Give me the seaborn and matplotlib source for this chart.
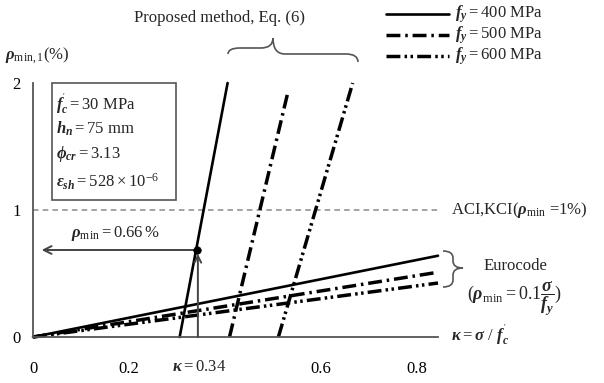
import matplotlib
matplotlib.use("Agg")
import matplotlib.pyplot as plt
import seaborn as sns
import pandas as pd
from matplotlib.path import Path
from matplotlib.patches import PathPatch, Rectangle
from matplotlib.lines import Line2D

# ---------------- data ----------------
fy_values = ["400", "500", "600"]
kappa_euro = [0.0, 0.845]
rho_euro_400 = [0.0, 0.64]
rho_euro_500 = [0.0, 0.51]
rho_euro_600 = [0.0, 0.425]
kappa_prop_400 = [0.306, 0.406]
rho_prop_400 = [0.0, 2.0]
kappa_prop_500 = [0.410, 0.532]
rho_prop_500 = [0.0, 1.93]
kappa_prop_600 = [0.512, 0.667]
rho_prop_600 = [0.0, 2.0]
kappa_pt = [0.342]
rho_pt = [0.685]
aci_x = [0.0, 0.845]
aci_y = [1.0, 1.0]
x_ticks = [0, 0.2, 0.4, 0.6, 0.8]
x_tick_labels = ["0", "0.2", "", "0.6", "0.8"]
y_ticks = [0, 1, 2]
y_tick_labels = ["0", "1", "2"]
box_lines = [r"$f_c^{'}=30\ \mathrm{MPa}$", r"$h_n=75\ \mathrm{mm}$",
             r"$\phi_{cr}=3.13$", r"$\varepsilon_{sh}=528\times10^{-6}$"]

# ---------------- style ----------------
sns.set_theme(style="white")
plt.rcParams["font.family"] = ["Liberation Serif", "DejaVu Serif"]
plt.rcParams["mathtext.fontset"] = "custom"
plt.rcParams["mathtext.rm"] = "Liberation Serif"
plt.rcParams["mathtext.it"] = "Liberation Serif:italic:bold"
plt.rcParams["mathtext.bf"] = "Liberation Serif:bold"
plt.rcParams["lines.scale_dashes"] = False

FS = 12
W, H = 604, 383
ls500 = (0, (10, 3.5, 1.8, 3.5))
ls600 = (0, (10, 3, 1.8, 2.5, 1.8, 3))
styles = {"400": ("-", 1.9), "500": (ls500, 2.5), "600": (ls600, 2.5)}

fig = plt.figure(figsize=(W / 100, H / 100), dpi=100)
ax = fig.add_axes([33 / W, 46 / H, 405 / W, 254 / H])


def P(px, py):
    return (px / W, 1 - py / H)


# ACI dashed line
sns.lineplot(x=aci_x, y=aci_y, ax=ax, color="#8a8a8a", lw=1.1,
             linestyle=(0, (4, 3)))

# Eurocode lines
for fy, rho in zip(fy_values, [rho_euro_400, rho_euro_500, rho_euro_600]):
    ls, lw = styles[fy]
    sns.lineplot(x=kappa_euro, y=rho, ax=ax, color="black", lw=lw,
                 linestyle=ls, clip_on=False)

# Proposed method lines
for fy, kx, ry in zip(fy_values,
                      [kappa_prop_400, kappa_prop_500, kappa_prop_600],
                      [rho_prop_400, rho_prop_500, rho_prop_600]):
    ls, lw = styles[fy]
    sns.lineplot(x=kx, y=ry, ax=ax, color="black", lw=lw, linestyle=ls,
                 clip_on=False, sort=False)

# arrows to the point
ax.annotate("", xy=(0.018, rho_pt[0]), xytext=(kappa_pt[0], rho_pt[0]),
            arrowprops=dict(arrowstyle="->", color="#444444", lw=1.4,
                            mutation_scale=14, shrinkA=0, shrinkB=0))
ax.annotate("", xy=(kappa_pt[0] + 0.002, rho_pt[0] - 0.03),
            xytext=(kappa_pt[0] + 0.002, 0.0),
            arrowprops=dict(arrowstyle="->", color="#444444", lw=1.4,
                            mutation_scale=12, shrinkA=0, shrinkB=0))
sns.scatterplot(x=kappa_pt, y=rho_pt, ax=ax, color="black", s=30,
                edgecolor="black", zorder=5)

ax.set_xlim(0, 0.845)
ax.set_ylim(0, 2)
ax.set_xticks(x_ticks)
ax.set_xticklabels(x_tick_labels, fontsize=FS)
ax.set_yticks(y_ticks)
ax.set_yticklabels(y_tick_labels, fontsize=FS)
ax.tick_params(axis="x", direction="in", length=5, width=1, pad=17,
               colors="#555555", labelcolor="black")
ax.tick_params(axis="y", direction="in", length=5, width=1, pad=9,
               colors="#555555", labelcolor="black")
for s in ["top", "right"]:
    ax.spines[s].set_visible(False)
for s in ["left", "bottom"]:
    ax.spines[s].set_color("#555555")
    ax.spines[s].set_linewidth(1.3)
ax.set_xlabel("")
ax.set_ylabel("")
ax.patch.set_alpha(0)

# info box
box = Rectangle(P(52, 200), (176 - 52) / W, (200 - 83) / H,
                transform=fig.transFigure, fill=False, edgecolor="#555555",
                lw=1.2)
fig.add_artist(box)
for t, py in zip(box_lines, [105, 129, 154, 182]):
    fig.text(*P(56, py), t, fontsize=FS, va="center", ha="left")

# texts
fig.text(*P(5, 56), r"$\rho_{\mathrm{min,1}}$(%)", fontsize=FS, va="center")
fig.text(*P(134, 18), "Proposed method, Eq. (6)", fontsize=FS, va="center")
fig.text(*P(115, 233), r"$\rho_{\mathrm{min}}=0.66\,\%$", fontsize=FS,
         va="center", ha="center")
fig.text(*P(199, 367), r"$\kappa=0.34$", fontsize=FS, va="center",
         ha="center")
fig.text(*P(451, 336), r"$\kappa=\sigma\ /\ f_c^{'}$", fontsize=FS,
         va="center")
fig.text(*P(451, 210), r"ACI,KCI($\rho_{\mathrm{min}}$ =1%)", fontsize=FS,
         va="center")
fig.text(*P(515, 266), "Eurocode", fontsize=FS, va="center", ha="center")
fig.text(*P(515, 299), r"$(\rho_{\mathrm{min}}=0.1\dfrac{\sigma}{f_y})$",
         fontsize=FS + 1, va="center", ha="center")

# legend
for fy, py in zip(fy_values, [14, 35, 56]):
    ls, lw = styles[fy]
    x0, y0 = P(386, py)
    x1, _ = P(449, py)
    fig.add_artist(Line2D([x0, x1], [y0, y0], transform=fig.transFigure,
                          color="black", lw=lw, linestyle=ls))
    fig.text(*P(455, py), r"$f_y=%s\ \mathrm{MPa}$" % fy, fontsize=FS,
             va="center")


# braces
def brace_h(x0, x1, xm, yb0, yb1, ytip, r=12):
    ymid0 = (yb0 + ytip) / 2 + 2
    ymid1 = (yb1 + ytip) / 2 + 4
    pts = [(x0, yb0), (x0, ymid0), (x0 + r, ymid0),
           (xm - r, ymid0), (xm, ymid0), (xm, ytip),
           (xm, ymid1), (xm + r, ymid1),
           (x1 - r, ymid1), (x1, ymid1), (x1, yb1)]
    codes = [Path.MOVETO, Path.CURVE3, Path.CURVE3, Path.LINETO,
             Path.CURVE3, Path.CURVE3, Path.CURVE3, Path.CURVE3,
             Path.LINETO, Path.CURVE3, Path.CURVE3]
    return Path([P(*p) for p in pts], codes)


def brace_v(xb, xtip, y0, y1, ym, r=7):
    xmid = (xb + xtip) / 2
    pts = [(xb, y0), (xmid, y0), (xmid, y0 + r),
           (xmid, ym - r), (xmid, ym), (xtip, ym),
           (xmid, ym), (xmid, ym + r),
           (xmid, y1 - r), (xmid, y1), (xb, y1)]
    codes = [Path.MOVETO, Path.CURVE3, Path.CURVE3, Path.LINETO,
             Path.CURVE3, Path.CURVE3, Path.CURVE3, Path.CURVE3,
             Path.LINETO, Path.CURVE3, Path.CURVE3]
    return Path([P(*p) for p in pts], codes)


fig.add_artist(PathPatch(brace_h(228, 358, 273, 54, 62, 38),
                         transform=fig.transFigure, fill=False,
                         edgecolor="#555555", lw=1.2))
fig.add_artist(PathPatch(brace_v(443, 463, 251, 287, 268),
                         transform=fig.transFigure, fill=False,
                         edgecolor="#555555", lw=1.2))

fig.savefig("out.png", dpi=100)
